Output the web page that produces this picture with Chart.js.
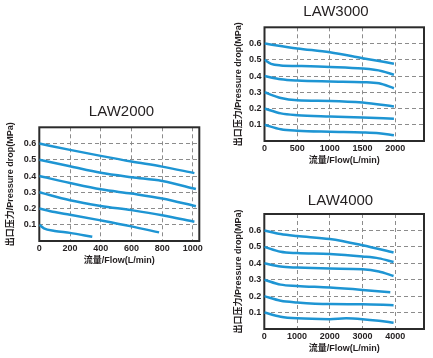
<!DOCTYPE html>
<html>
<head>
<meta charset="utf-8">
<script src="https://cdn.jsdelivr.net/npm/chart.js@4.4.1/dist/chart.umd.min.js"></script>
<style>
  html, body { margin: 0; padding: 0; background: #fff; overflow: hidden; width: 433px; height: 358px; }
  canvas { position: absolute; }
</style>
</head>
<body>
<canvas id="c2000" style="left:0px;top:92px;"></canvas>
<canvas id="c3000" style="left:233px;top:0px;"></canvas>
<canvas id="c4000" style="left:233px;top:185px;"></canvas>
<script>
// set pressure of each curve (MPa) and the tick labels
const setPressures = [0.6, 0.5, 0.4, 0.3, 0.2, 0.1];
const yTicks = [0.1, 0.2, 0.3, 0.4, 0.5, 0.6];
const law2000Ticks = [0, 200, 400, 600, 800, 1000];
const law3000Ticks = [0, 500, 1000, 1500, 2000];
const law4000Ticks = [0, 1000, 2000, 3000, 4000];

// LAW2000 flow (L/min) and outlet pressure (MPa)
const law2000Flow = [
  [0, 200, 400, 600, 800, 1010],
  [0, 200, 400, 600, 800, 1020],
  [0, 200, 400, 600, 800, 1020],
  [0, 200, 400, 600, 800, 1010],
  [0, 100, 200, 400, 600, 780],
  [0, 30, 100, 200, 345]
];
const law2000Pres = [
  [0.6, 0.561, 0.524, 0.489, 0.458, 0.418],
  [0.5, 0.46, 0.42, 0.393, 0.37, 0.32],
  [0.4, 0.357, 0.318, 0.292, 0.262, 0.214],
  [0.3, 0.251, 0.216, 0.19, 0.159, 0.118],
  [0.2, 0.178, 0.162, 0.127, 0.09, 0.053],
  [0.1, 0.078, 0.062, 0.05, 0.026]
];

// LAW3000
const law3000Flow = [
  [0, 500, 1000, 1500, 1980],
  [0, 100, 250, 500, 1000, 1500, 1800, 1980],
  [0, 250, 500, 1000, 1500, 1750, 1980],
  [0, 250, 500, 1000, 1500, 1980],
  [0, 250, 500, 1000, 1500, 1980],
  [0, 250, 500, 1000, 1500, 1750, 1980]
];
const law3000Pres = [
  [0.6, 0.57, 0.546, 0.51, 0.476],
  [0.5, 0.475, 0.465, 0.462, 0.456, 0.446, 0.43, 0.408],
  [0.4, 0.38, 0.372, 0.366, 0.362, 0.355, 0.325],
  [0.3, 0.265, 0.251, 0.247, 0.237, 0.213],
  [0.2, 0.17, 0.159, 0.151, 0.145, 0.137],
  [0.1, 0.072, 0.063, 0.057, 0.053, 0.048, 0.035]
];

// LAW4000
const law4000Flow = [
  [0, 500, 1000, 2000, 3000, 3950],
  [0, 500, 1000, 2000, 3000, 3500, 3950],
  [0, 500, 1000, 2000, 3000, 3500, 3950],
  [0, 500, 1000, 2000, 3000, 3850],
  [0, 500, 1000, 2000, 3000, 3950],
  [0, 500, 1000, 2000, 2500, 3000, 3500, 3950]
];
const law4000Pres = [
  [0.6, 0.578, 0.566, 0.548, 0.51, 0.466],
  [0.5, 0.47, 0.462, 0.456, 0.441, 0.43, 0.408],
  [0.4, 0.38, 0.374, 0.368, 0.364, 0.35, 0.323],
  [0.3, 0.27, 0.262, 0.252, 0.238, 0.224],
  [0.2, 0.172, 0.162, 0.152, 0.151, 0.145],
  [0.1, 0.075, 0.065, 0.06, 0.065, 0.06, 0.05, 0.038]
];

const lineColor = '#1e95d3';
const textColor = '#231f20';
const fontFam = '"Liberation Sans", Arial, "Noto Sans CJK SC", sans-serif';

// box around plot area
const framePlugin = {
  id: 'frame',
  beforeDatasetsDraw(chart) {
    const a = chart.chartArea, ctx = chart.ctx;
    ctx.save();
    ctx.strokeStyle = '#2b2b2b';
    ctx.lineWidth = 2;
    ctx.strokeRect(a.left, a.top, a.right - a.left, a.bottom - a.top);
    ctx.restore();
  }
};

function makeChart(id, title, flows, pres, xMax, xTicks, box) {
  const cv = document.getElementById(id);
  cv.width = box.w; cv.height = box.h;
  cv.style.width = box.w + 'px'; cv.style.height = box.h + 'px';
  const datasets = flows.map((fx, i) => ({
    label: String(setPressures[i]),
    data: fx.map((x, j) => ({ x: x, y: pres[i][j] })),
    borderColor: lineColor,
    borderWidth: 2.5,
    pointRadius: 0,
    fill: false,
    cubicInterpolationMode: 'monotone'
  }));
  return new Chart(cv, {
    type: 'line',
    data: { datasets },
    options: {
      responsive: false,
      animation: false,
      layout: { padding: 0 },
      plugins: {
        legend: { display: false },
        tooltip: { enabled: false },
        title: {
          display: true, text: title, color: textColor,
          font: { family: fontFam, size: 15, weight: 'normal', lineHeight: 1.2 },
          padding: { top: box.tTop, bottom: box.tBot }
        }
      },
      scales: {
        x: {
          type: 'linear', min: 0, max: xMax,
          afterBuildTicks(s) { s.ticks = xTicks.map(v => ({ value: v })); },
          grid: { color: '#8c8c8c', lineWidth: 1, drawTicks: false },
          border: { display: false, dash: [4, 3] },
          ticks: {
            autoSkip: false, maxRotation: 0,
            padding: 2, color: textColor,
            font: { family: fontFam, size: 9, weight: 'bold' },
            callback: v => String(v)
          },
          title: {
            display: true, text: '流量/Flow(L/min)', color: textColor,
            font: { family: fontFam, size: 9, weight: 'bold' },
            padding: { top: 0, bottom: 6 }
          },
          afterFit(s) { s.height = 31; }
        },
        y: {
          type: 'linear', min: 0, max: 0.7,
          grid: { color: '#8c8c8c', lineWidth: 1, drawTicks: false },
          border: { display: false, dash: [4, 3] },
          ticks: {
            stepSize: 0.1, padding: 3, color: textColor,
            font: { family: fontFam, size: 9, weight: 'bold' },
            callback: v => yTicks.some(t => Math.abs(t - v) < 1e-6) ? v.toFixed(1) : ''
          },
          title: {
            display: true, text: '出口压力/Pressure drop(MPa)', color: textColor,
            font: { family: fontFam, size: 9, weight: 'bold' },
            padding: { top: box.yTitlePad, bottom: 0 }
          },
          afterFit(s) { s.width = box.yw; }
        },
        yPad: {
          type: 'linear', position: 'right', display: true,
          grid: { display: false }, border: { display: false },
          ticks: { display: false },
          afterFit(s) { s.width = box.rw; }
        }
      }
    },
    plugins: [framePlugin]
  });
}

makeChart('c2000', 'LAW2000', law2000Flow, law2000Pres, 1042, law2000Ticks,
  { w: 243, h: 180, tTop: 10.7, tBot: 6.6, yw: 39.3, rw: 43.7, yTitlePad: 5.6 });
makeChart('c3000', 'LAW3000', law3000Flow, law3000Pres, 2440, law3000Ticks,
  { w: 206, h: 172, tTop: 2.7, tBot: 6.6, yw: 31.5, rw: 15, yTitlePad: 0 });
makeChart('c4000', 'LAW4000', law4000Flow, law4000Pres, 4880, law4000Ticks,
  { w: 215, h: 175, tTop: 6.8, tBot: 4.2, yw: 31.3, rw: 24, yTitlePad: 0 });
</script>
</body>
</html>
